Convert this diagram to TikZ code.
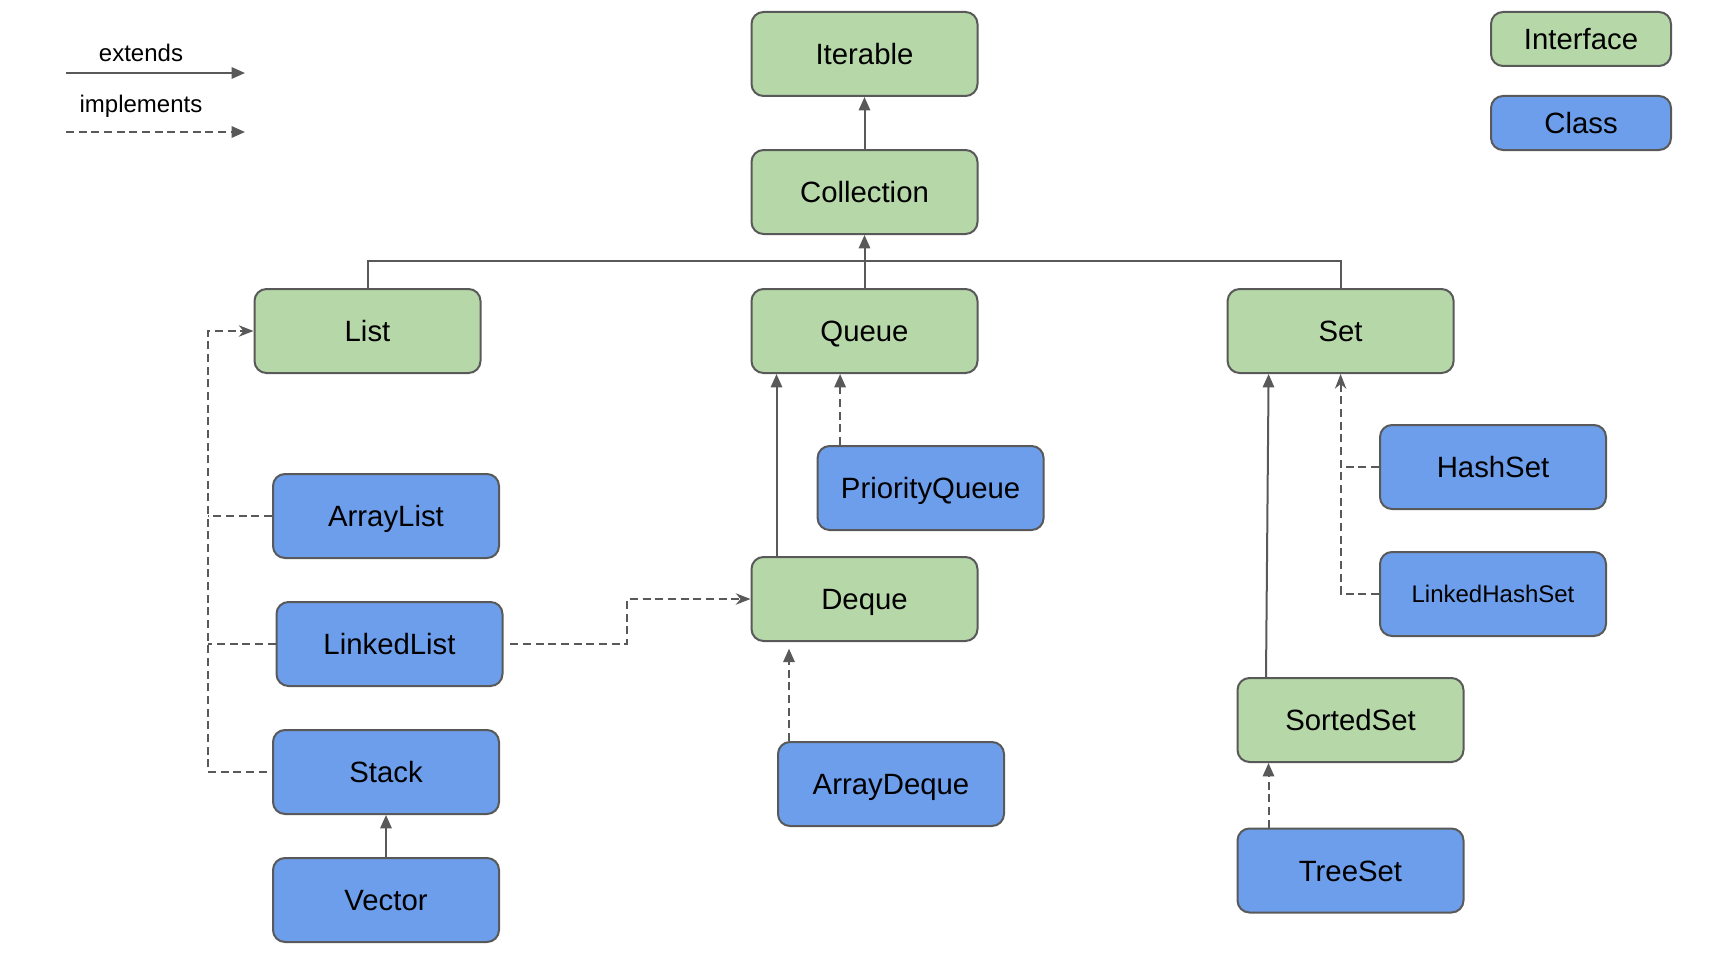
\documentclass[tikz,border=0pt]{standalone}
\usepackage{fontspec}
\setmainfont{Liberation Sans}
\usetikzlibrary{arrows.meta}
\definecolor{ifgreen}{HTML}{B6D7A8}
\definecolor{clblue}{HTML}{6D9EEB}
\definecolor{edge}{HTML}{595959}
\begin{document}
\begin{tikzpicture}[x=0.75pt,y=-0.75pt,
  box/.style={draw=edge, line width=1.5pt, rounded corners=9pt, minimum width=169.5pt, minimum height=63pt,
    inner sep=0pt, font=\fontsize{22}{26}\selectfont, text height=15.8pt, text depth=0pt, text=black},
  iface/.style={box, fill=ifgreen},
  cls/.style={box, fill=clblue},
  small/.style={font=\fontsize{18}{22}\selectfont, text height=12.9pt},
  ext/.style={draw=edge, line width=1.5pt, -{Triangle[length=10pt,width=8.5pt]}},
  plain/.style={draw=edge, line width=1.5pt},
  impl/.style={draw=edge, line width=1.5pt, dash pattern=on 6pt off 3.5pt},
  implS/.style={impl, -{Stealth[length=11pt,width=8.5pt,inset=3.5pt]}},
  implT/.style={impl, -{Triangle[length=10pt,width=8.5pt]}},
  lbl/.style={font=\fontsize{18}{22}\selectfont, inner sep=0pt, text=black}
]
\useasboundingbox (0,0) rectangle (1728,974);

% legend
\node[lbl] (extl) at (141,53) {extends};
\node[lbl] (impll) at (141,106) {implements};
\coordinate (e1) at (66,73);
\coordinate (e2) at (245,73);
\coordinate (i1) at (66,132);
\coordinate (i2) at (245,132);
\draw[ext] (e1) -- (e2);
\draw[implT] (i1) -- (i2);

\node[iface, minimum width=135pt, minimum height=40.5pt] (LInterface) at (1581,39) {Interface};
\node[cls, minimum width=135pt, minimum height=40.5pt] (LClass) at (1581,123) {Class};

% interfaces
\node[iface] (Iterable) at (864.5,54) {Iterable};
\node[iface] (Collection) at (864.5,192) {Collection};
\node[iface] (List) at (367.5,331) {List};
\node[iface] (Queue) at (864.5,331) {Queue};
\node[iface] (Set) at (1340.6,331) {Set};
\node[iface] (Deque) at (864.5,599) {Deque};
\node[iface] (SortedSet) at (1350.5,720) {SortedSet};

% classes
\node[cls] (ArrayList) at (386,516) {ArrayList};
\node[cls] (LinkedList) at (389.5,644) {LinkedList};
\node[cls] (Stack) at (386,772) {Stack};
\node[cls] (Vector) at (386,900) {Vector};
\node[cls] (PriorityQueue) at (930.6,488) {PriorityQueue};
\node[cls] (ArrayDeque) at (891,784) {ArrayDeque};
\node[cls] (HashSet) at (1493,467) {HashSet};
\node[cls, small] (LinkedHashSet) at (1493,594) {LinkedHashSet};
\node[cls] (TreeSet) at (1350.5,870.5) {TreeSet};

% extends
\draw[ext] (Collection.north) -- (Iterable.south);
\coordinate (bus) at (864.5,261);
\draw[plain] (List.north) |- (bus) -| (Set.north);
\draw[ext] (Queue.north) -- (Collection.south);
\draw[ext] ([xshift=26*0.75pt]Deque.north west) -- ([xshift=26*0.75pt]Queue.south west);
\draw[ext] ([xshift=29.5*0.75pt]SortedSet.north west) -- ([xshift=42*0.75pt]Set.south west);
\draw[ext] (Vector.north) -- (Stack.south);

% implements: List
\coordinate (lx) at (208,331);
\draw[implS] ([xshift=-4pt]Stack.west) -- (Stack.west -| lx) |- (List.west);
\draw[impl] (ArrayList.west) -- (ArrayList.west -| lx);
\draw[impl] (LinkedList.west) -- (LinkedList.west -| lx);

% LinkedList -> Deque
\coordinate (lk) at (627,620);
\draw[implS] ([xshift=5pt]LinkedList.east) -| (lk) |- (Deque.west);

% PriorityQueue -> Queue
\draw[implT] ([xshift=23.5*0.75pt]PriorityQueue.north west) -- ([xshift=23.5*0.75pt]PriorityQueue.north west |- Queue.south);

% ArrayDeque -> Deque
\draw[implT] ([xshift=12*0.75pt]ArrayDeque.north west) -- ([xshift=12*0.75pt,yshift=-5pt]ArrayDeque.north west |- Deque.south);

% Set
\draw[implS] (LinkedHashSet.west) -| (Set.south);
\draw[impl] (HashSet.west) -- (HashSet.west -| Set.south);

% TreeSet -> SortedSet
\draw[implT] ([xshift=32*0.75pt]TreeSet.north west) -- ([xshift=32*0.75pt]TreeSet.north west |- SortedSet.south);
\end{tikzpicture}
\end{document}
